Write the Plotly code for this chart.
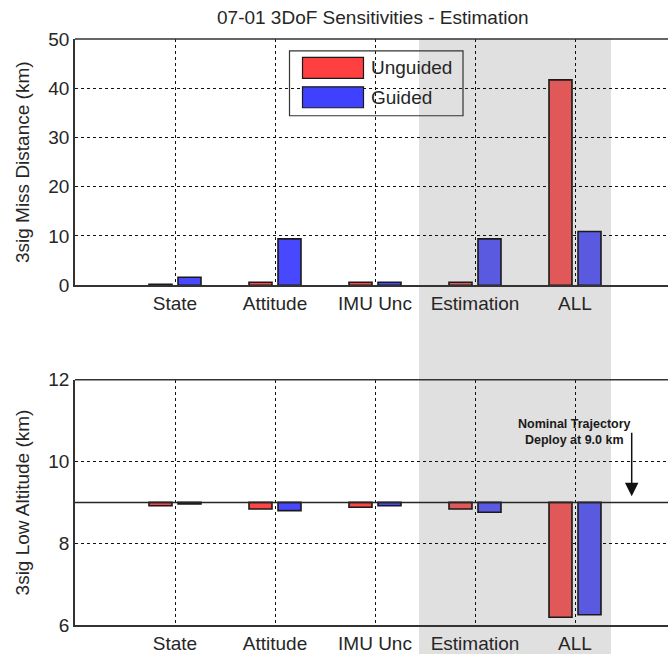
import plotly.graph_objects as go

# Sensitivity cases
categories = ["State", "Attitude", "IMU Unc", "Estimation", "ALL"]

# 3-sigma miss distance (km)
miss_unguided = [0.2, 0.6, 0.6, 0.6, 41.7]
miss_guided = [1.6, 9.4, 0.6, 9.4, 10.9]

# 3-sigma low deploy altitude (km)
alt_unguided = [8.92, 8.84, 8.88, 8.84, 6.19]
alt_guided = [8.96, 8.80, 8.92, 8.76, 6.25]

NOMINAL_DEPLOY = 9.0          # nominal trajectory deploy altitude (km)
HIGHLIGHT = (3.44, 5.36)      # shaded span behind the Estimation / ALL cases

FONT = "Liberation Sans, Arial, sans-serif"
TXT = "#262626"
AX = "#333333"
GRID = "#111111"

RED, RED_SHADED = "#ff4646", "#e05858"
BLUE, BLUE_SHADED = "#4848ff", "#5a5ae0"

xpos = list(range(1, len(categories) + 1))
in_band = [HIGHLIGHT[0] <= x <= HIGHLIGHT[1] for x in xpos]
red_cols = [RED_SHADED if b else RED for b in in_band]
blue_cols = [BLUE_SHADED if b else BLUE for b in in_band]

BAR_W = 0.23
EDGE = dict(color="#1a1a1a", width=1.6)

fig = go.Figure()

# Miss distance bars (top panel)
fig.add_trace(go.Bar(x=xpos, y=miss_unguided, width=BAR_W, offset=-0.26,
                     marker=dict(color=red_cols, line=EDGE),
                     xaxis="x", yaxis="y", name="Unguided"))
fig.add_trace(go.Bar(x=xpos, y=miss_guided, width=BAR_W, offset=0.03,
                     marker=dict(color=blue_cols, line=EDGE),
                     xaxis="x", yaxis="y", name="Guided"))

# Low altitude bars hanging from the nominal deploy altitude (bottom panel)
fig.add_trace(go.Bar(x=xpos, y=[v - NOMINAL_DEPLOY for v in alt_unguided],
                     base=NOMINAL_DEPLOY, width=BAR_W, offset=-0.26,
                     marker=dict(color=red_cols, line=EDGE),
                     xaxis="x2", yaxis="y2", name="Unguided"))
fig.add_trace(go.Bar(x=xpos, y=[v - NOMINAL_DEPLOY for v in alt_guided],
                     base=NOMINAL_DEPLOY, width=BAR_W, offset=0.03,
                     marker=dict(color=blue_cols, line=EDGE),
                     xaxis="x2", yaxis="y2", name="Guided"))

xcommon = dict(range=[0, 5.93], tickvals=xpos, ticktext=categories,
               showgrid=True, gridcolor=GRID, griddash="3px,3px", gridwidth=1.2,
               showline=True, linecolor=AX, linewidth=1.5, ticks="",
               zeroline=False, tickfont=dict(family=FONT, size=19, color=TXT))
ycommon = dict(showgrid=True, gridcolor=GRID, griddash="3px,3px", gridwidth=1.2,
               showline=True, linecolor=AX, linewidth=1.5, ticks="",
               zeroline=False, tickfont=dict(family=FONT, size=19, color=TXT))

TOP_DOM = [0.5799, 1.0]
BOT_DOM = [0.0, 0.4184]

fig.update_layout(
    width=668, height=654,
    margin=dict(l=75, r=0, t=39, b=27),
    paper_bgcolor="white", plot_bgcolor="rgba(0,0,0,0)",
    barmode="overlay", showlegend=False,
    xaxis=dict(**xcommon, anchor="y"),
    yaxis=dict(**ycommon, domain=TOP_DOM, range=[0, 50], dtick=10, anchor="x"),
    xaxis2=dict(**xcommon, anchor="y2"),
    yaxis2=dict(**ycommon, domain=BOT_DOM, range=[6, 12], dtick=2, anchor="x2"),
)

shapes = [
    # shaded highlight column
    dict(type="rect", xref="x", yref="paper", x0=HIGHLIGHT[0], x1=HIGHLIGHT[1],
         y0=-0.05, y1=1.0, fillcolor="#e0e0e0", line_width=0, layer="below"),
    # top borders of both panels
    dict(type="line", xref="x domain", yref="y domain", x0=0, x1=1, y0=1, y1=1,
         line=dict(color=AX, width=1.5)),
    dict(type="line", xref="x2 domain", yref="y2 domain", x0=0, x1=1, y0=1, y1=1,
         line=dict(color=AX, width=1.5)),
    # nominal deploy altitude reference line
    dict(type="line", xref="x2 domain", yref="y2", x0=0, x1=1,
         y0=NOMINAL_DEPLOY, y1=NOMINAL_DEPLOY, line=dict(color="#262626", width=1.5)),
]

# Legend box drawn in the top panel
def px_x(p):
    return (p - 75) / 593.0

def px_y(p):
    return (627 - p) / 588.0

shapes.append(dict(type="rect", xref="paper", yref="paper",
                   x0=px_x(289.5), x1=px_x(463), y0=px_y(116), y1=px_y(51),
                   line=dict(color="#333333", width=1.2), fillcolor="rgba(0,0,0,0)"))
legend_items = [("Unguided", "#ff4040", 57.5, 78.5), ("Guided", "#4040ff", 87, 108)]
annotations = []
for label, col, top, bot in legend_items:
    shapes.append(dict(type="rect", xref="paper", yref="paper",
                       x0=px_x(302.5), x1=px_x(363.5), y0=px_y(bot), y1=px_y(top),
                       fillcolor=col, line=dict(color="#1a1a1a", width=1.2)))
    annotations.append(dict(xref="paper", yref="paper", x=px_x(369),
                            y=px_y((top + bot) / 2), text=label, showarrow=False,
                            xanchor="left", yanchor="middle",
                            font=dict(family=FONT, size=19, color=TXT)))

# Title and axis titles
annotations += [
    dict(xref="paper", yref="paper", x=px_x(373), y=px_y(17),
         text="07-01 3DoF Sensitivities - Estimation", showarrow=False,
         xanchor="center", yanchor="middle", font=dict(family=FONT, size=19, color=TXT)),
    dict(xref="paper", yref="paper", x=px_x(22), y=px_y(162.5),
         text="3sig Miss Distance (km)", showarrow=False, textangle=-90,
         xanchor="center", yanchor="middle", font=dict(family=FONT, size=19, color=TXT)),
    dict(xref="paper", yref="paper", x=px_x(22), y=px_y(504),
         text="3sig Low Altitude (km)", showarrow=False, textangle=-90,
         xanchor="center", yanchor="middle", font=dict(family=FONT, size=19, color=TXT)),
    # nominal trajectory note and arrow
    dict(xref="x2", yref="y2", x=4.99, y=10.72,
         text="<b>Nominal Trajectory<br>Deploy at 9.0 km</b>", showarrow=False,
         xanchor="center", yanchor="middle", align="center",
         font=dict(family=FONT, size=12.5, color="#1a1a1a")),
    dict(xref="x2", yref="y2", x=5.567, y=9.15, axref="x2", ayref="y2",
         ax=5.567, ay=10.74, text="", showarrow=True, arrowhead=2,
         arrowsize=1.8, arrowwidth=1.5, arrowcolor="#111111"),
]

fig.update_layout(shapes=shapes, annotations=annotations)

fig.write_html("out.html")
